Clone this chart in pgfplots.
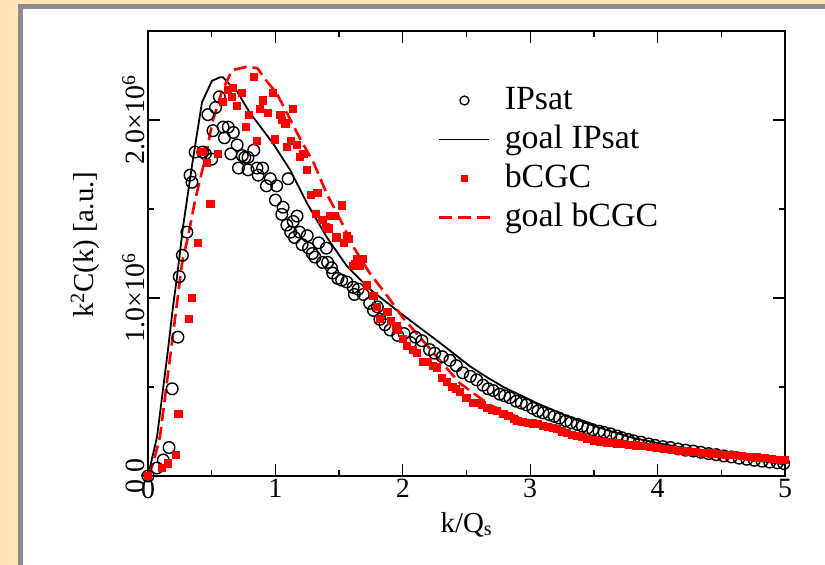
\documentclass[border=0pt]{standalone}
\usepackage{fontspec}
\setmainfont{Liberation Serif}
\usepackage{pgfplots}
\pgfplotsset{compat=1.18}
\definecolor{bgtan}{RGB}{255,229,180}
\definecolor{frameg}{RGB}{140,140,140}
\begin{document}
\begin{tikzpicture}
\useasboundingbox (-148bp,-89bp) rectangle (677bp,476bp);
\fill[bgtan] (-148bp,-89bp) rectangle (677bp,476bp);
\fill[frameg] (-130bp,-89bp) rectangle (677bp,472bp);
\fill[white] (-125bp,-89bp) rectangle (677bp,467bp);
\begin{axis}[
 at={(0,0)}, anchor=south west,
 scale only axis, width=637bp, height=445bp,
 xmin=0, xmax=5, ymin=0, ymax=2.5,
 xtick={0,1,2,3,4,5}, xticklabels={0,1,2,3,4,5},
 minor xtick={0.5,1.5,2.5,3.5,4.5},
 ytick={0,1,2}, yticklabels={0.0,{1.0×10\textsuperscript{6}},{2.0×10\textsuperscript{6}}},
 minor ytick={0.5,1.5},
 tick align=inside, major tick length=12bp, minor tick length=6bp,
 tick style={black, line width=1.3bp},
 axis line style={line width=1.8bp},
 xticklabel style={font=\fontsize{28}{30}\selectfont},
 yticklabel style={font=\fontsize{28}{30}\selectfont, rotate=90, anchor=south},
 xlabel={k/Q\textsubscript{s}},
 ylabel={k\textsuperscript{2}C(k) [a.u.]},
 label style={font=\fontsize{29}{31}\selectfont},
 xlabel style={at={(axis description cs:0.5,-0.126)}, anchor=base},
 ylabel style={at={(axis description cs:-0.099,0.52)}, anchor=center},
 legend style={at={(0.4505,0.888)}, anchor=north west, draw=none, fill=none,
   font=\fontsize{34}{36}\selectfont,
   nodes={inner sep=0pt, text height=26bp, text depth=9bp},
   row sep=4bp, /tikz/every odd column/.append style={column sep=13bp}},
 legend cell align=left,
 clip=false,
]
% IPsat (open circles)
\addplot[forget plot, only marks, mark=o, mark size=5.8bp, mark options={line width=1.4bp, black}] coordinates {
(0,0) (0.07,0.045) (0.12,0.09) (0.165,0.16) (0.19,0.49) (0.235,0.78) (0.245,1.12) (0.27,1.24)
(0.305,1.37) (0.33,1.69) (0.345,1.65) (0.37,1.82) (0.43,1.82) (0.45,1.81) (0.47,2.03) (0.50,1.78)
(0.51,1.94) (0.53,2.07) (0.56,2.13) (0.59,1.96) (0.60,1.90) (0.63,1.96) (0.65,1.81) (0.67,1.93)
(0.70,1.86) (0.71,1.73) (0.74,1.80) (0.76,1.79) (0.785,1.79) (0.785,1.72) (0.83,1.83) (0.855,1.73)
(0.865,1.69) (0.90,1.73) (0.93,1.63) (0.96,1.67) (1.00,1.55) (1.01,1.63) (1.05,1.47) (1.06,1.51)
(1.09,1.41) (1.10,1.67) (1.12,1.37) (1.14,1.43) (1.15,1.34) (1.17,1.46) (1.19,1.37) (1.21,1.30)
(1.25,1.35) (1.26,1.28) (1.29,1.25) (1.31,1.23) (1.34,1.31) (1.37,1.20) (1.40,1.28) (1.41,1.20)
(1.44,1.17) (1.45,1.14) (1.49,1.11) (1.52,1.10) (1.56,1.09) (1.61,1.06) (1.62,1.02) (1.65,1.05)
(1.69,1.02) (1.74,0.97) (1.77,0.93) (1.80,0.95) (1.82,0.88) (1.86,0.85) (1.90,0.82) (1.96,0.79) (2.01,0.80)
(2.06,0.75) (2.10,0.78) (2.15,0.76) (2.21,0.71) (2.25,0.69) (2.31,0.67) (2.37,0.65) (2.42,0.62)
(2.47,0.58) (2.53,0.56) (2.58,0.54) (2.63,0.51) (2.67,0.49) (2.71,0.48) (2.76,0.46) (2.80,0.45) (2.84,0.44)
(2.89,0.42) (2.93,0.41) (2.97,0.40) (3.02,0.38) (3.06,0.365) (3.10,0.355) (3.15,0.345) (3.19,0.335)
(3.23,0.325) (3.28,0.31) (3.32,0.30) (3.37,0.29) (3.41,0.28) (3.45,0.27) (3.49,0.26) (3.54,0.252)
(3.58,0.245) (3.63,0.237) (3.68,0.225) (3.72,0.215) (3.77,0.205) (3.81,0.198) (3.87,0.19) (3.93,0.18)
(3.98,0.172) (4.04,0.165) (4.10,0.16) (4.16,0.152) (4.22,0.145) (4.28,0.14) (4.34,0.133) (4.40,0.126)
(4.46,0.12) (4.52,0.113) (4.58,0.107) (4.64,0.10) (4.70,0.094) (4.76,0.088) (4.82,0.083) (4.88,0.078)
(4.94,0.074) (4.99,0.07)
};
% goal IPsat
\addplot[forget plot, black, line width=1.8bp, no marks] coordinates {
(0,0) (0.071,0.22) (0.157,0.71) (0.196,0.95) (0.228,1.12) (0.275,1.40) (0.353,1.78) (0.424,2.10)
(0.502,2.22) (0.565,2.24) (0.589,2.24) (0.628,2.21) (0.699,2.16) (0.80,2.04) (0.98,1.87) (1.115,1.72)
(1.25,1.53) (1.405,1.34) (1.56,1.18) (1.74,1.05) (2.0,0.905) (2.27,0.76) (2.53,0.615) (2.66,0.555)
(2.79,0.50) (3.05,0.41) (3.31,0.33) (3.55,0.27) (3.80,0.215) (4.05,0.178) (4.30,0.145) (4.55,0.11) (4.78,0.086) (5.0,0.066)
};
% bCGC (filled squares)
\addplot[forget plot, only marks, mark=square*, mark size=3.6bp, mark options={red, fill=red, line width=0pt}] coordinates {
(0,0) (0.11,0.045) (0.16,0.07) (0.22,0.12) (0.24,0.35) (0.32,0.88) (0.345,1.0) (0.39,1.31)
(0.42,1.82) (0.46,1.76) (0.49,1.53) (0.55,1.81) (0.59,2.10) (0.63,2.17) (0.66,2.13) (0.67,2.18)
(0.70,2.08) (0.74,2.15) (0.77,1.96) (0.79,2.03) (0.83,2.24) (0.855,1.88) (0.88,2.06) (0.90,2.11)
(0.94,2.04) (0.98,2.15) (1.00,1.89) (1.04,2.03) (1.05,2.0) (1.08,1.98) (1.09,1.85) (1.12,1.88)
(1.14,2.06) (1.17,1.86) (1.19,1.79) (1.22,1.81) (1.25,1.72) (1.28,1.58) (1.32,1.47) (1.33,1.59)
(1.37,1.44) (1.40,1.40) (1.42,1.39) (1.43,1.46) (1.47,1.46) (1.48,1.34) (1.52,1.52) (1.54,1.31)
(1.56,1.35) (1.58,1.33) (1.61,1.18) (1.625,1.19) (1.64,1.22) (1.66,1.18) (1.69,1.22) (1.72,1.07)
(1.77,1.01) (1.80,0.95) (1.82,0.88) (1.88,0.92) (1.91,0.87) (1.95,0.84) (1.96,0.82) (2.00,0.77)
(2.03,0.73) (2.08,0.71) (2.11,0.69) (2.16,0.64) (2.20,0.64) (2.24,0.62) (2.27,0.61) (2.31,0.55)
(2.35,0.53) (2.39,0.50) (2.42,0.49) (2.45,0.47) (2.50,0.44) (2.55,0.41) (2.58,0.41) (2.62,0.40)
(2.66,0.38) (2.70,0.37) (2.74,0.365) (2.79,0.35) (2.83,0.335) (2.87,0.32) (2.90,0.31) (2.94,0.305)
(2.98,0.30) (3.02,0.295) (3.06,0.29) (3.10,0.28) (3.14,0.275) (3.18,0.27) (3.21,0.265)
(3.25,0.25) (3.29,0.24) (3.33,0.232) (3.37,0.225) (3.41,0.218) (3.45,0.21) (3.50,0.20)
(3.55,0.193) (3.60,0.188) (3.64,0.185) (3.68,0.183) (3.73,0.179) (3.78,0.175) (3.83,0.171) (3.88,0.167)
(3.94,0.163) (4.00,0.158) (4.06,0.153) (4.12,0.148) (4.18,0.142) (4.24,0.138) (4.30,0.134) (4.36,0.13)
(4.42,0.126) (4.48,0.123) (4.54,0.12) (4.60,0.116) (4.66,0.112) (4.72,0.108) (4.78,0.104) (4.84,0.10)
(4.90,0.096) (4.96,0.092) (5.00,0.09)
};
% goal bCGC
\addplot[forget plot, red, line width=2.6bp, dash pattern=on 13bp off 6bp, no marks] coordinates {
(0,0) (0.04,0.07) (0.094,0.22) (0.19,0.76) (0.27,1.21) (0.31,1.33) (0.37,1.55) (0.45,1.79)
(0.51,2.0) (0.58,2.16) (0.66,2.28) (0.78,2.30) (0.86,2.29) (0.93,2.22) (1.01,2.15) (1.09,2.04)
(1.19,1.90) (1.30,1.76) (1.40,1.59) (1.51,1.44) (1.61,1.29) (1.74,1.14) (1.89,1.0) (2.0,0.89) (2.11,0.80)
(2.29,0.65) (2.45,0.52) (2.68,0.40) (3.0,0.30) (3.3,0.235) (3.6,0.19) (4.0,0.155) (4.5,0.118) (5.0,0.088)
};
\addlegendimage{legend image code/.code={\draw[black, line width=1.3bp] (25bp,0bp) circle (4.5bp);}}
\addlegendentry{IPsat}
\addlegendimage{legend image code/.code={\draw[black, line width=1.8bp] (0bp,0bp) -- (50bp,0bp);}}
\addlegendentry{goal IPsat}
\addlegendimage{legend image code/.code={\fill[red] (22bp,-3bp) rectangle (28bp,3bp);}}
\addlegendentry{bCGC}
\addlegendimage{legend image code/.code={\draw[red, line width=2.6bp, dash pattern=on 13bp off 6bp] (0bp,0bp) -- (51bp,0bp);}}
\addlegendentry{goal bCGC}
\end{axis}
\end{tikzpicture}
\end{document}
